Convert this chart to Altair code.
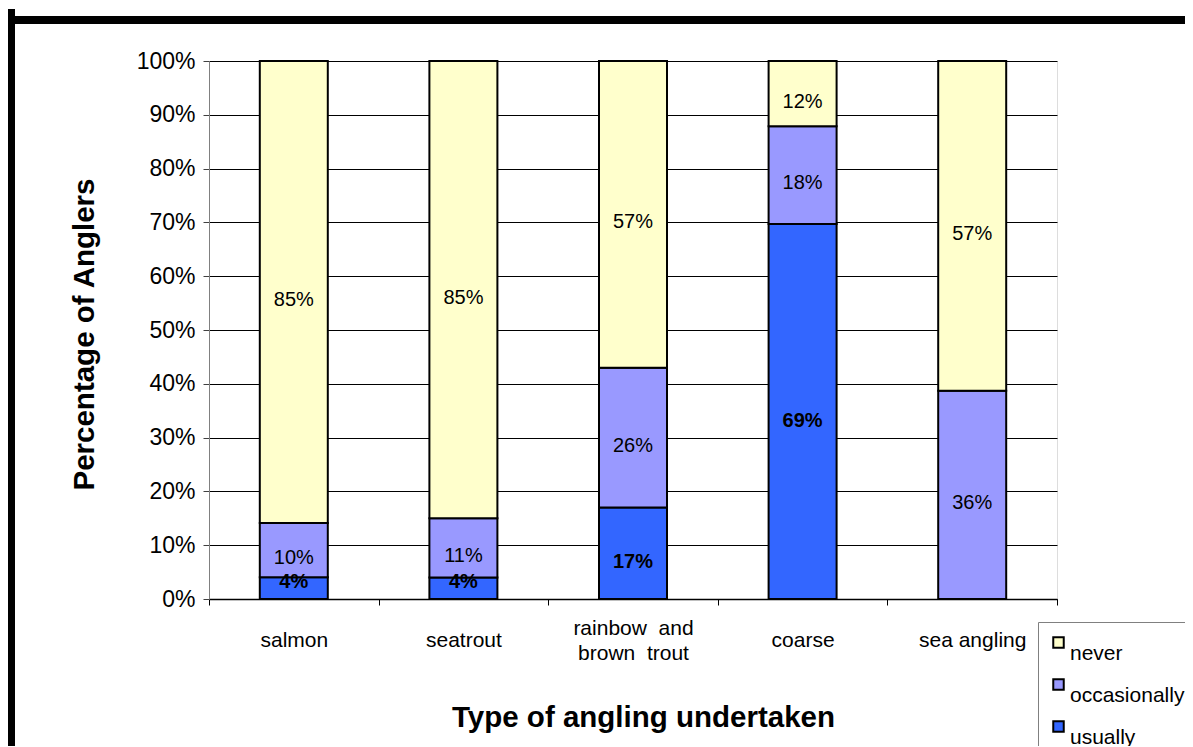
import altair as alt
import pandas as pd

types = ["salmon", "seatrout", "rainbow and brown trout", "coarse", "sea angling"]
usually = [4, 4, 17, 69, 0]
occasionally = [10, 11, 26, 18, 36]
never = [85, 85, 57, 12, 57]

freq_levels = ["never", "occasionally", "usually"]
freq_colors = ["#FFFFCC", "#9999FF", "#3366FF"]
stack_rank = {"usually": 0, "occasionally": 1, "never": 2}
y_ticks = [0, 0.1, 0.2, 0.3, 0.4, 0.5, 0.6, 0.7, 0.8, 0.9, 1.0]

rows = []
for i, t in enumerate(types):
    for f, vals in (("usually", usually), ("occasionally", occasionally), ("never", never)):
        if vals[i] > 0:
            rows.append({"type": t, "freq": f, "value": vals[i], "rank": stack_rank[f]})
df = pd.DataFrame(rows)

FONT = "Liberation Sans"
NB = "\u00a0"

base = alt.Chart(df).transform_stack(
    stack="value",
    groupby=["type"],
    sort=[{"field": "rank", "order": "ascending"}],
    as_=["y0", "y1"],
    offset="normalize",
).transform_calculate(
    mid="(datum.y0 + datum.y1) / 2",
    midb="max((datum.y0 + datum.y1) / 2, 0.048)",
    label="datum.value + '%'",
)

x_enc = alt.X(
    "type:N",
    sort=types,
    scale=alt.Scale(paddingInner=0, paddingOuter=0),
    axis=alt.Axis(
        title="Type of angling undertaken",
        labelAngle=0,
        labelFont=FONT,
        labelFontSize=21,
        labelColor="black",
        labelBaseline={
            "condition": {"test": "datum.value == 'rainbow and brown trout'", "value": "line-bottom"},
            "value": "middle",
        },
        labelPadding=35,
        labelLineHeight=25,
        labelLimit=0,
        labelExpr=(
            "datum.label == 'rainbow and brown trout' ? "
            f"['rainbow{NB} and', 'brown{NB} trout'] : datum.label"
        ),
        tickBand="extent",
        tickSize=6,
        tickColor="black",
        domainColor="black",
        domainWidth=1.5,
        grid=False,
        titleFont=FONT,
        titleFontSize=29.5,
        titleFontWeight="bold",
        titleColor="black",
        titleX=434,
        titleY=118,
        titleBaseline="middle",
    ),
)

y_scale = alt.Scale(domain=[0, 1], nice=False)
y_axis = alt.Axis(
    title="Percentage of Anglers",
    format=".0%",
    values=y_ticks,
    labelFont=FONT,
    labelFontSize=23,
    labelColor="black",
    labelPadding=8,
    tickSize=6,
    tickColor="#404040",
    domainColor="#808080",
    grid=True,
    gridColor="#000000",
    gridWidth=1,
    titleFont=FONT,
    titleFontSize=29.5,
    titleFontWeight="bold",
    titleColor="black",
    titleX=-125,
    titleY=273,
    titleAngle=270,
    titleBaseline="middle",
    titleAlign="center",
)

bars = base.mark_bar(size=68, stroke="black", strokeWidth=2).encode(
    x=x_enc,
    y=alt.Y("y0:Q", scale=y_scale, axis=y_axis),
    y2="y1:Q",
    color=alt.Color(
        "freq:N",
        scale=alt.Scale(domain=freq_levels, range=freq_colors),
        legend=alt.Legend(
            title=None,
            orient="none",
            legendX=829,
            legendY=561,
            direction="vertical",
            symbolType="square",
            symbolSize=110,
            symbolStrokeColor="black",
            symbolStrokeWidth=2,
            labelFont=FONT,
            labelFontSize=21,
            labelColor="black",
            labelBaseline="top",
            labelOffset=1,
            rowPadding=10,
            padding=10,
            strokeColor="#808080",
            fillColor="white",
        ),
    ),
)

text_plain = base.transform_filter("datum.freq != 'usually'").mark_text(
    font=FONT, fontSize=20, color="black", baseline="middle", dy=8
).encode(x=alt.X("type:N", sort=types), y=alt.Y("mid:Q", scale=y_scale), text="label:N")

text_bold = base.transform_filter("datum.freq == 'usually'").mark_text(
    font=FONT, fontSize=20, fontWeight="bold", color="black", baseline="middle", dy=9
).encode(x=alt.X("type:N", sort=types), y=alt.Y("midb:Q", scale=y_scale), text="label:N")

frame_df = pd.DataFrame({"k": [0]})
frame_left = alt.Chart(frame_df).mark_rect(color="black").encode(
    x=alt.value(-201), x2=alt.value(-194), y=alt.value(-52), y2=alt.value(700)
)
frame_top = alt.Chart(frame_df).mark_rect(color="black").encode(
    x=alt.value(-194), x2=alt.value(1000), y=alt.value(-45), y2=alt.value(-37)
)

chart = alt.layer(bars, text_plain, text_bold, frame_left, frame_top).properties(
    width=848,
    height=538,
    autosize=alt.AutoSizeParams(type="none"),
    padding={"left": 201, "top": 53, "right": 128, "bottom": 147},
).configure_view(
    fill="#C0C0C0", stroke="#808080", strokeWidth=2
).configure(background="white")

chart.save("out.html", embed_options={"renderer": "svg", "actions": False})
